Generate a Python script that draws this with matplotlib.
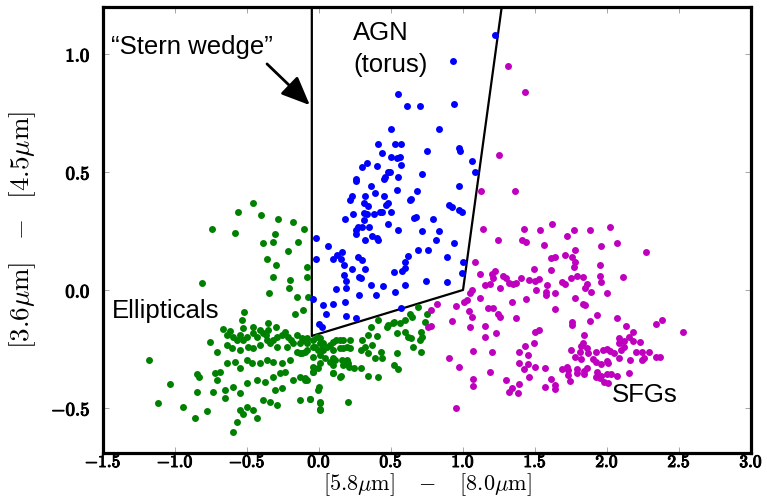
import matplotlib
matplotlib.use('Agg')
import matplotlib.pyplot as plt
import matplotlib.patheffects as pe

plt.rcParams['mathtext.fontset'] = 'cm'

# AGN (inside the wedge)
agn_x = [1.22, 0.93, 0.55, 0.61, 0.70, 0.94, 0.50, 0.83, 0.41, 0.53, 0.57, 0.75, 0.97, 0.98,
         0.44, 0.50, 0.54, 0.56, 0.33, 0.40, 0.30, 0.57, 1.06, 0.49, 0.48, 1.08, 0.715, 0.55,
         0.26, 0.26, 0.45, 0.46, 0.97, 0.36, 0.54, 0.68, 0.23, 0.32, 0.39, 0.45, 0.215, 0.31,
         0.64, 0.63, 0.48, 0.465, 0.34, 0.905, 0.92, 0.97, 0.995, 0.235, 0.31, 0.335, 0.38,
         0.42, 0.44, 0.50, 0.675, 0.66, 0.79, 0.18, 0.31, 0.48, 0.27, 0.30, 0.345, 0.26, 0.545,
         0.715, 0.83, 0.255, 0.37, 0.40, 0.41, 0.32, -0.02, 0.815, 0.94, 0.065, 0.69, 0.76,
         0.125, 0.16, 0.10, 0.15, 0.27, 0.30, 0.62, 0.89, -0.02, 0.60, 1.0, 0.17, 0.23, 0.32,
         0.60, 0.575, 0.52, 0.995, 0.175, 0.28, 0.29, 0.19, 0.74, 0.89, 0.36, 0.445, 0.595,
         0.12, 0.19, -0.04, 0.28, 0.395, 0.53, 0.18, 0.025, 0.095, 0.05, 0.19, 0.26, 0.57,
         0.0, 0.02]
agn_y = [1.08, 0.97, 0.83, 0.78, 0.78, 0.79, 0.68, 0.68, 0.62, 0.62, 0.62, 0.59, 0.60, 0.59,
         0.58, 0.565, 0.56, 0.565, 0.54, 0.525, 0.52, 0.53, 0.545, 0.50, 0.50, 0.50, 0.49, 0.48,
         0.47, 0.46, 0.47, 0.48, 0.44, 0.44, 0.425, 0.42, 0.40, 0.40, 0.41, 0.40, 0.38, 0.37,
         0.385, 0.38, 0.37, 0.36, 0.355, 0.36, 0.35, 0.34, 0.33, 0.32, 0.325, 0.32, 0.32,
         0.33, 0.33, 0.33, 0.31, 0.305, 0.30, 0.30, 0.295, 0.28, 0.265, 0.265, 0.265, 0.255, 0.255,
         0.25, 0.25, 0.235, 0.23, 0.22, 0.21, 0.21, 0.22, 0.21, 0.20, 0.185, 0.17, 0.17,
         0.15, 0.16, 0.13, 0.13, 0.14, 0.125, 0.145, 0.14, 0.13, 0.12, 0.12, 0.105, 0.09, 0.09,
         0.095, 0.08, 0.075, 0.07, 0.065, 0.055, 0.05, 0.04, 0.04, 0.035, 0.02, 0.015, 0.02,
         0.005, 0.01, -0.04, -0.02, -0.02, -0.01, -0.05, -0.065, -0.06, -0.10, -0.11, -0.12, -0.075,
         -0.145, -0.155]

# Ellipticals
ell_x = [-0.46, -0.565, -0.40, -0.283, -0.183, -0.104, -0.745, -0.586, -0.306, -0.39, -0.317,
         -0.146, -0.218, -0.359, -0.301, -0.081, -0.317, -0.199, -0.081, -0.81, -0.206, -0.345,
         -0.15, -0.079, -0.109, -0.167, -0.519, -0.537,
         -0.352, -0.299, -0.456, -0.526, -0.665, -0.618, -0.637, -0.595, -0.549, -0.572, -0.526,
         -0.502, -0.456, -0.433, -0.41, -0.387, -0.368, -0.352, -0.364, -0.34, -0.317, -0.294,
         -0.259, -0.234, -0.213, -0.197, -0.155, -0.132, -0.109, -0.086, -0.04, 0.007, 0.03,
         0.076, 0.099, 0.146, -0.757, -0.711, -0.641, -0.607, -0.549, -0.491, -0.456, -0.41,
         -0.294, -0.225, -0.178, -0.132, -0.086, -0.04, -0.005, 0.053, 0.099, 0.146, 0.192,
         0.47, 0.516, 0.597, 0.643, 0.736, 0.655, 0.713,
         -1.178, -1.035, -1.116, -0.942, -0.861, -0.776, -0.85, -0.831, -0.72, -0.688, -0.641,
         -0.584, -0.549, -0.502, -0.468, -0.41, -0.364, -0.317, -0.259, -0.202, -0.155, -0.121,
         -0.04, 0.007, 0.076, 0.111, 0.169, 0.192,
         -0.711, -0.653, -0.595, -0.549, -0.502, -0.433, -0.375, -0.317, -0.271, -0.236, -0.178,
         -0.132, -0.097, -0.04, -0.005, 0.099, 0.146,
         -0.85, -0.734, -0.653, -0.549, -0.502, -0.456, -0.526, -0.572, -0.60, -0.433, -0.387,
         -0.34, -0.294, -0.306, -0.259, -0.132, -0.063, -0.005, 0.007, 0.007,
         -0.015, 0.007, 0.03, -0.03, -0.10, -0.085, -0.12,
         0.69, 0.63, 0.75, 0.52, 0.48, 0.41, 0.56, 0.54, 0.60, 0.62, 0.64, 0.71, 0.70, 0.36, 0.34,
         0.40, 0.30, 0.32, 0.37, 0.43, 0.71, 0.54, 0.52, 0.55, 0.39, 0.435, 0.34, 0.41, 0.29,
         0.34, 0.20, 0.24, 0.29, 0.155, 0.10, 0.095, 0.10, 0.16, 0.20, 0.21, 0.165, 0.215, 0.12,
         0.165, 0.215, 0.025, 0.01, 0.04, 0.0, -0.06, 0.01, 0.01, -0.10, -0.085, -0.04, -0.045]
ell_y = [0.37, 0.33, 0.316, 0.302, 0.287, 0.26, 0.258, 0.243, 0.239, 0.199, 0.202,
         0.205, 0.167, 0.131, 0.106, 0.099, 0.055, 0.044, 0.054, 0.028, 0.01, -0.014,
         -0.028, -0.031, -0.085, -0.103, -0.093, -0.127,
         -0.139, -0.155, -0.157, -0.16, -0.164, -0.172, -0.191, -0.198, -0.191, -0.212, -0.212,
         -0.198, -0.184, -0.198, -0.17, -0.184, -0.191, -0.17, -0.212, -0.226, -0.212, -0.198,
         -0.191, -0.177, -0.198, -0.212, -0.191, -0.226, -0.212, -0.205, -0.212, -0.205, -0.226,
         -0.233, -0.219, -0.212, -0.219, -0.261, -0.233, -0.247, -0.254, -0.24, -0.247, -0.233,
         -0.24, -0.24, -0.226, -0.268, -0.254, -0.24, -0.254, -0.24, -0.254, -0.247, -0.24,
         -0.155, -0.141, -0.127, -0.113, -0.134, -0.24, -0.198,
         -0.298, -0.398, -0.48, -0.494, -0.542, -0.513, -0.357, -0.367, -0.353, -0.346, -0.311,
         -0.304, -0.332, -0.297, -0.311, -0.31, -0.297, -0.304, -0.311, -0.297, -0.261, -0.268,
         -0.283, -0.311, -0.304, -0.297, -0.318, -0.297,
         -0.381, -0.424, -0.41, -0.438, -0.396, -0.381, -0.389, -0.367, -0.353, -0.346, -0.381,
         -0.367, -0.381, -0.346, -0.332, -0.353, -0.367,
         -0.431, -0.434, -0.459, -0.509, -0.494, -0.509, -0.526, -0.558, -0.603, -0.544, -0.466,
         -0.473, -0.487, -0.424, -0.417, -0.466, -0.463, -0.424, -0.473, -0.509,
         -0.198, -0.226, -0.24, -0.24, -0.261, -0.226, -0.205,
         -0.073, -0.10, -0.10, -0.134, -0.148, -0.127, -0.141, -0.184, -0.177, -0.198, -0.205,
         -0.18, -0.21, -0.158, -0.19, -0.195, -0.212, -0.24, -0.233, -0.261, -0.261, -0.268,
         -0.316, -0.336, -0.29, -0.29, -0.364, -0.367, -0.254, -0.267, -0.473, -0.33, -0.33,
         -0.364, -0.353, -0.318, -0.29, -0.297, -0.31, -0.325, -0.247, -0.247, -0.212, -0.212,
         -0.212, -0.254, -0.275, -0.29, -0.41, -0.463, -0.478, -0.506, -0.374, -0.381, -0.346,
         -0.325]

# Star-forming galaxies
sfg_x = [1.315, 1.43, 1.25, 1.125, 1.36, 1.14, 1.425, 1.535, 1.615, 1.77, 1.885, 2.02, 1.72,
         1.24, 1.41, 1.44, 1.56, 1.96, 2.07, 2.27, 1.78, 1.61, 1.64, 1.71, 1.76, 1.08, 1.49,
         1.61, 1.77, 1.78, 1.95, 1.22, 1.20, 1.12, 1.28, 1.30, 1.40, 1.37, 1.35, 1.21, 1.46,
         1.50, 1.53, 1.75, 1.79, 1.83, 1.95, 2.11, 1.58, 1.69, 1.71, 1.86, 1.96, 1.15, 1.19,
         1.26, 1.32, 1.06, 1.51, 1.575, 1.575, 1.64, 1.85, 1.89, 2.0, 1.05, 1.03, 1.01, 1.12,
         0.95, 0.82, 1.34, 1.44, 1.78, 1.83, 1.85, 1.17, 1.21, 1.04, 1.06, 1.24, 1.26, 1.37,
         1.64, 1.93, 2.07, 2.38, 2.34, 0.92, 1.76, 1.76, 1.88, 1.05, 1.15, 2.13, 1.50, 1.53,
         1.84, 2.18, 2.15, 2.18, 2.23, 2.08, 2.12, 2.08, 1.15, 1.23, 2.53, 1.49, 1.43, 1.83,
         1.82, 1.86, 1.81, 2.0, 2.02, 1.97, 1.75, 1.87, 1.92, 2.05, 2.10, 2.12, 2.20, 2.24,
         2.29, 2.26, 2.34, 2.37, 1.07, 1.20, 1.39, 1.45, 0.90, 1.78, 1.82, 1.90, 1.92, 1.96,
         2.0, 2.01, 2.16, 2.24, 2.08, 1.39, 1.45, 1.50, 1.57, 0.97, 1.19, 1.42, 1.69, 1.72,
         1.73, 1.79, 1.84, 1.73, 1.86, 1.93, 1.96, 1.92, 1.95, 2.0, 2.03, 2.07, 2.15, 1.79,
         1.84, 1.98, 2.01, 1.46, 1.61, 1.74, 1.30, 1.07, 1.07, 1.39, 1.57, 1.64, 1.64, 1.34,
         1.32, 1.38, 0.95, 0.78, 0.76, 0.78]
sfg_y = [0.95, 0.84, 0.57, 0.42, 0.42, 0.26, 0.26, 0.255, 0.28, 0.255, 0.255, 0.265, 0.23,
         0.21, 0.21, 0.205, 0.19, 0.185, 0.20, 0.16, 0.17, 0.135, 0.14, 0.148, 0.14, 0.117, 0.09,
         0.085, 0.097, 0.117, 0.105, 0.08, 0.066, 0.069, 0.06, 0.049, 0.049, 0.028, 0.024, 0.049,
         0.042, 0.038, 0.046, 0.052, 0.06, 0.056, 0.06, 0.053, 0.021, 0.032, 0.024, 0.024, 0.032,
         0.021, 0.026, 0.007, 0.028, 0.0, 0.0, -0.007, -0.022, -0.012, 0.007, -0.007, -0.015,
         -0.015, -0.044, -0.05, -0.036, -0.067, -0.061, -0.05, -0.039, -0.036, -0.061, -0.064,
         -0.078, -0.075, -0.089, -0.113, -0.104, -0.115, -0.12, -0.081, -0.106, -0.12, -0.126,
         -0.146, -0.132, -0.135, -0.149, -0.132, -0.156, -0.154, -0.154, -0.177, -0.17, -0.19,
         -0.177, -0.198, -0.217, -0.219, -0.205, -0.217, -0.226, -0.198, -0.184, -0.18, -0.224,
         -0.236, -0.226, -0.236, -0.245, -0.262, -0.25, -0.259, -0.256, -0.255, -0.266, -0.262,
         -0.267, -0.256, -0.243, -0.265, -0.265, -0.265, -0.29, -0.283, -0.283, -0.259, -0.265,
         -0.265, -0.276, -0.29, -0.283, -0.294, -0.293, -0.307, -0.315, -0.301, -0.311, -0.297,
         -0.297, -0.287, -0.311, -0.315, -0.325, -0.332, -0.325, -0.346, -0.337, -0.335, -0.325,
         -0.339, -0.335, -0.342, -0.36, -0.33, -0.346, -0.363, -0.368, -0.375, -0.358, -0.358,
         -0.365, -0.35, -0.354, -0.356, -0.389, -0.393, -0.368, -0.379, -0.385, -0.382, -0.379,
         -0.407, -0.399, -0.41, -0.403, -0.42, -0.414, -0.431, -0.438, -0.499, -0.085, -0.155,
         -0.153]

# Stern wedge outline
wedge_x = [-0.05, -0.05, 1.0, 1.28]
wedge_y = [1.25, -0.195, 0.0, 1.25]

xticks = [-1.5, -1.0, -0.5, 0.0, 0.5, 1.0, 1.5, 2.0, 2.5, 3.0]
yticks = [-0.5, 0.0, 0.5, 1.0]

fig = plt.figure(figsize=(7.67, 4.97), dpi=100)
ax = fig.add_axes([0.1343, 0.0885, 0.8449, 0.8974])

ax.scatter(ell_x, ell_y, s=25, c='g', linewidths=0, zorder=3)
ax.scatter(agn_x, agn_y, s=25, c='b', linewidths=0, zorder=3)
ax.scatter(sfg_x, sfg_y, s=25, c='m', linewidths=0, zorder=3)
ax.plot(wedge_x, wedge_y, color='k', lw=1.6, zorder=2)

sans = 'Liberation Sans'
ax.text(-1.445, 1.03, '\u201cStern wedge\u201d', fontsize=18.5, family=sans, va='center')
ax.annotate('', xy=(-0.05, 0.775), xytext=(-0.375, 0.966),
            arrowprops=dict(arrowstyle='-|>,head_length=0.7,head_width=0.3',
                            color='k', lw=2, mutation_scale=25))
ax.text(0.236, 1.059, 'AGN', fontsize=18.5, family=sans, va='baseline')
ax.text(0.24, 0.924, '(torus)', fontsize=18.5, family=sans, va='baseline')
ax.text(-1.4375, -0.119, 'Ellipticals', fontsize=18.5, family=sans, va='baseline')
ax.text(2.035, -0.475, 'SFGs', fontsize=18.5, family=sans, va='baseline')

ax.set_xlim(-1.5, 3.0)
ax.set_ylim(-0.691, 1.199)
ax.set_xticks(xticks)
ax.set_xticklabels([r'$\mathbf{%.1f}$' % v for v in xticks])
ax.set_yticks(yticks)
ax.set_yticklabels([r'$\mathbf{%.1f}$' % v for v in yticks])
ax.tick_params(direction='in', top=True, right=True, length=4, width=0.6,
               color='#999999', labelsize=13.5)
ax.tick_params(axis='x', pad=0, labelsize=12.5)
ax.tick_params(axis='y', pad=9)
for lab in ax.get_xticklabels() + ax.get_yticklabels():
    lab.set_path_effects([pe.withStroke(linewidth=0.8, foreground='k')])
for sp in ax.spines.values():
    sp.set_linewidth(2.3)

ax.set_xlabel(r'$[5.8\mu{\rm m}]\quad-\quad[8.0\mu{\rm m}]$', fontsize=16)
ax.xaxis.set_label_coords(0.5, -0.1)
ax.xaxis.label.set_verticalalignment('bottom')
ax.set_ylabel(r'$[3.6\mu{\rm m}]\ \ -\ \ [4.5\mu{\rm m}]$', fontsize=19.5)
ax.yaxis.set_label_coords(-0.1, 0.5)

fig.savefig('out.png', dpi=100)
